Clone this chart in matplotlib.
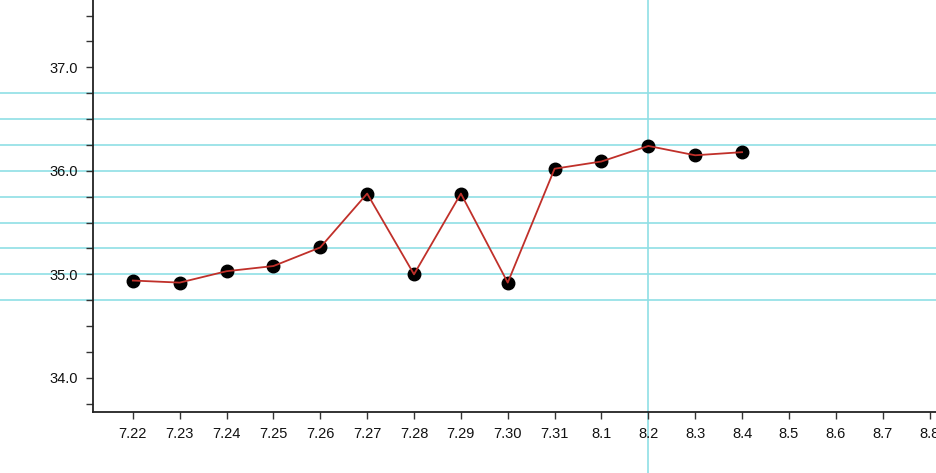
import matplotlib
matplotlib.use('Agg')
import matplotlib.pyplot as plt
from matplotlib.ticker import MultipleLocator

plt.rcParams['font.family'] = ['Liberation Sans', 'DejaVu Sans']

# 日期和体温
dates = ['7.22', '7.23', '7.24', '7.25', '7.26', '7.27', '7.28', '7.29', '7.30',
         '7.31', '8.1', '8.2', '8.3', '8.4', '8.5', '8.6', '8.7', '8.8']
temps = [34.94, 34.92, 35.03, 35.08, 35.26, 35.78, 35.00, 35.78, 34.92,
         36.02, 36.09, 36.24, 36.15, 36.18]
hlines = [34.75, 35.0, 35.25, 35.5, 35.75, 36.0, 36.25, 36.5, 36.75]
vline_date = '8.2'

fig = plt.figure(figsize=(9.37, 4.73), dpi=100)
ax = fig.add_axes([93/937, 61/473, 844/937, 412/473])

x = list(range(len(temps)))
ax.plot(x, temps, 'o', color='black', ms=9, zorder=3)
ax.plot(x, temps, '-', color='#c0302a', lw=1.3, zorder=4)

cyan = '#8fdfe5'
for h in hlines:
    ax.axhline(h, xmin=-1, xmax=2, color=cyan, lw=1.2, clip_on=False, zorder=1)
ax.axvline(dates.index(vline_date), ymin=-1, ymax=2, color=cyan, lw=1.2,
           clip_on=False, zorder=1)

ax.set_xlim(-0.85, 17.16)
ax.set_ylim(33.67, 37.65)
ax.set_xticks(range(len(dates)))
ax.set_xticklabels(dates)
ax.yaxis.set_major_locator(MultipleLocator(1.0))
ax.yaxis.set_minor_locator(MultipleLocator(0.25))
ax.yaxis.set_major_formatter(matplotlib.ticker.FormatStrFormatter('%.1f'))

for s in ['top', 'right']:
    ax.spines[s].set_visible(False)
for s in ['left', 'bottom']:
    ax.spines[s].set_color('#222222')
    ax.spines[s].set_linewidth(1.3)
ax.tick_params(axis='both', which='both', length=5, width=1, color='#333333',
               labelsize=10.5, labelcolor='#111111', pad=6)

fig.savefig('out.png', dpi=100)
